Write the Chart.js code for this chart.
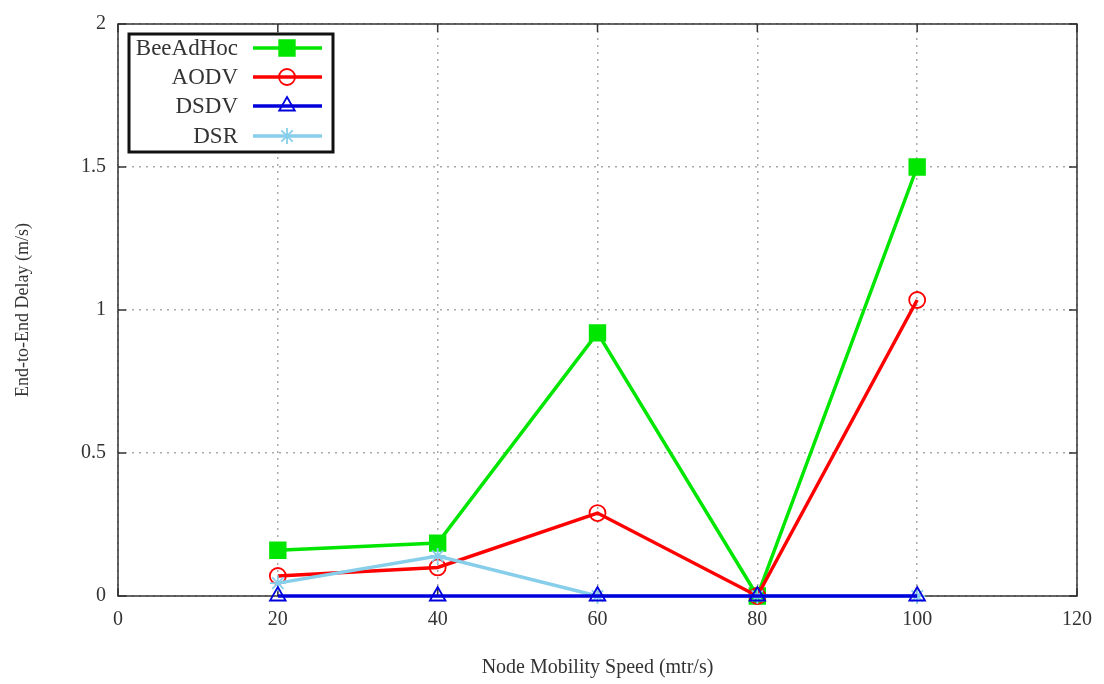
<!DOCTYPE html>
<html><head><meta charset="utf-8">
<script src="https://cdn.jsdelivr.net/npm/chart.js@4.4.1/dist/chart.umd.min.js"></script>
<style>html,body{margin:0;padding:0;background:#fff}#wrap{width:1104px;height:684px}</style>
</head><body><div id="wrap"><canvas id="c" width="1104" height="684"></canvas></div>
<script>
const speeds = [20, 40, 60, 80, 100];
const beeAdHoc = [0.16, 0.185, 0.92, 0, 1.5];
const aodv = [0.07, 0.1, 0.29, 0, 1.035];
const dsdv = [0, 0, 0, 0, 0];
const dsr = [0.045, 0.14, 0, 0, 0];
const seriesNames = ['BeeAdHoc', 'AODV', 'DSDV', 'DSR'];
const xTitle = 'Node Mobility Speed (mtr/s)';
const yTitle = 'End-to-End Delay (m/s)';

const FONT = '"Liberation Serif", "DejaVu Serif", serif';
const pts = arr => speeds.map((s, i) => ({x: s, y: arr[i]}));

const styles = [
  {color: '#00e600', pointStyle: 'rect', radius: 11, fill: true, order: 4},
  {color: '#ff0000', pointStyle: 'circle', radius: 8, fill: false, order: 3},
  {color: '#0000dd', pointStyle: 'triangle', radius: 9, fill: false, order: 1},
  {color: '#87ceeb', pointStyle: 'star', radius: 8, fill: false, order: 2}
];
const values = [beeAdHoc, aodv, dsdv, dsr];

const datasets = seriesNames.map((name, i) => ({
  label: name,
  data: pts(values[i]),
  borderColor: styles[i].color,
  backgroundColor: styles[i].fill ? styles[i].color : 'rgba(0,0,0,0)',
  pointBorderColor: styles[i].color,
  pointBackgroundColor: styles[i].fill ? styles[i].color : 'rgba(0,0,0,0)',
  pointStyle: styles[i].pointStyle,
  pointRadius: styles[i].radius,
  pointBorderWidth: 1.8,
  borderWidth: 3.5,
  order: styles[i].order,
  showLine: true,
  tension: 0,
  clip: false
}));

const frame = {
  id: 'frame',
  beforeDatasetsDraw(chart) {
    const {ctx, chartArea: a, scales} = chart;
    ctx.save();
    ctx.strokeStyle = '#333';
    ctx.lineWidth = 1.5;
    ctx.strokeRect(a.left, a.top, a.right - a.left, a.bottom - a.top);
    const tl = 8;
    ctx.beginPath();
    scales.x.ticks.forEach(t => {
      const px = scales.x.getPixelForValue(t.value);
      ctx.moveTo(px, a.bottom); ctx.lineTo(px, a.bottom - tl);
      ctx.moveTo(px, a.top); ctx.lineTo(px, a.top + tl);
    });
    scales.y.ticks.forEach(t => {
      const py = scales.y.getPixelForValue(t.value);
      ctx.moveTo(a.left, py); ctx.lineTo(a.left + tl, py);
      ctx.moveTo(a.right, py); ctx.lineTo(a.right - tl, py);
    });
    ctx.stroke();
    ctx.restore();
  }
};

const boxLegend = {
  id: 'boxLegend',
  afterDraw(chart) {
    const {ctx} = chart;
    const bx = 129, by = 34, bw = 204, bh = 118;
    ctx.save();
    ctx.fillStyle = '#fff';
    ctx.fillRect(bx, by, bw, bh);
    ctx.strokeStyle = '#111';
    ctx.lineWidth = 3;
    ctx.strokeRect(bx, by, bw, bh);
    ctx.font = '23px ' + FONT;
    ctx.textAlign = 'right';
    ctx.textBaseline = 'middle';
    const rows = [48, 77, 106, 136];
    chart.data.datasets.forEach((ds, i) => {
      const y = rows[i];
      ctx.fillStyle = '#333';
      ctx.fillText(ds.label, 238, y + 1);
      ctx.strokeStyle = ds.borderColor;
      ctx.lineWidth = 3.5;
      ctx.beginPath(); ctx.moveTo(253, y); ctx.lineTo(322, y); ctx.stroke();
      ctx.fillStyle = ds.pointBackgroundColor;
      ctx.strokeStyle = ds.pointBorderColor;
      ctx.lineWidth = 1.8;
      Chart.helpers.drawPoint(ctx, {pointStyle: ds.pointStyle, radius: ds.pointRadius, rotation: 0, borderWidth: 1.8}, 287, y);
    });
    ctx.restore();
  }
};

new Chart(document.getElementById('c'), {
  type: 'scatter',
  data: {datasets},
  plugins: [frame, boxLegend],
  options: {
    responsive: false,
    animation: false,
    layout: {padding: {left: 0, top: 17, right: 27, bottom: 0}},
    plugins: {legend: {display: false}, tooltip: {enabled: false}},
    scales: {
      x: {
        type: 'linear', min: 0, max: 120,
        ticks: {stepSize: 20, color: '#333', padding: 12, font: {family: FONT, size: 20}, callback: v => String(v)},
        grid: {color: '#aaa', lineWidth: 1.5, drawTicks: false},
        border: {display: false, dash: [2, 5]},
        title: {display: true, text: xTitle, color: '#333', font: {family: FONT, size: 20}, padding: {top: 4, bottom: 4}},
        afterFit: s => { s.height = 88; }
      },
      y: {
        type: 'linear', min: 0, max: 2,
        ticks: {stepSize: 0.5, color: '#333', padding: 12, font: {family: FONT, size: 20}, callback: v => String(v)},
        grid: {color: '#aaa', lineWidth: 1.5, drawTicks: false},
        border: {display: false, dash: [2, 5]},
        title: {display: true, text: yTitle, color: '#333', font: {family: FONT, size: 18}, padding: {top: 12, bottom: 4}},
        afterFit: s => { s.width = 118; }
      }
    }
  }
});
</script>
</body></html>
